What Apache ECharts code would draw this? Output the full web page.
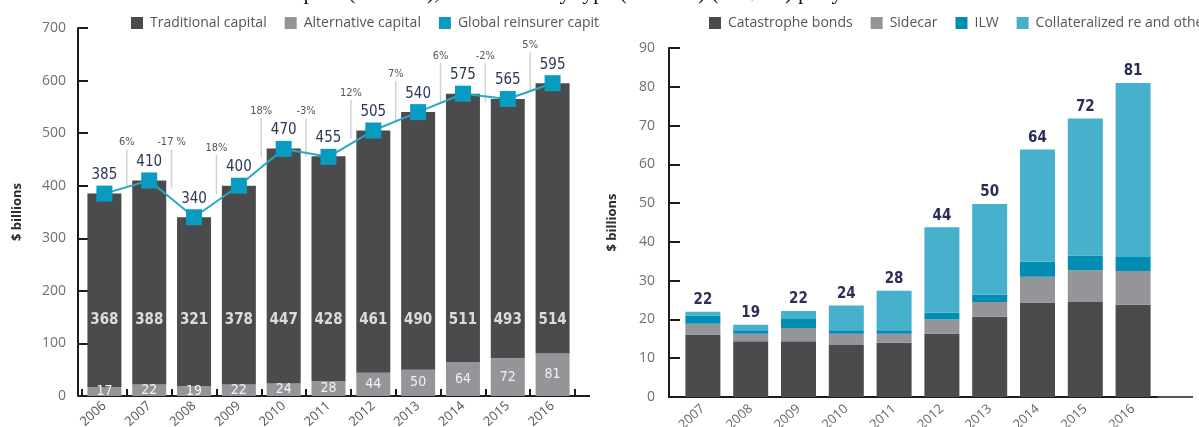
<!DOCTYPE html>
<html>
<head>
<meta charset="utf-8">
<script src="https://cdn.jsdelivr.net/npm/echarts@6/dist/echarts.min.js"></script>
<style>
html,body{margin:0;padding:0;background:#fff;width:1199px;height:427px;overflow:hidden;}
#left{position:absolute;left:0;top:0;width:600px;height:427px;overflow:hidden;}
#right{position:absolute;left:600px;top:0;width:599px;height:427px;overflow:hidden;}
#cap{position:absolute;left:0;top:0;width:1199px;height:10px;overflow:hidden;}
#cap span{position:absolute;left:135px;top:-19px;font-family:'Liberation Serif',serif;font-size:22px;line-height:22px;white-space:nowrap;color:#111;}
</style>
</head>
<body>
<div id="left"></div>
<div id="right"></div>
<div id="cap"><span>Global reinsurer capital (USD bn), Alternative by type (USD bn) (US$ bn) per year</span></div>
<script>
// ---------- DATA ----------
const years = ['2006','2007','2008','2009','2010','2011','2012','2013','2014','2015','2016'];
const traditional = [368, 388, 321, 378, 447, 428, 461, 490, 511, 493, 514];
const alternative = [17, 22, 19, 22, 24, 28, 44, 50, 64, 72, 81];
const globalCap = [385, 410, 340, 400, 470, 455, 505, 540, 575, 565, 595];
const changeLabels = ['', '6%', '-17 %', '18%', '18%', '-3%', '12%', '7%', '6%', '-2%', '5%'];
const leftTicks = [0, 100, 200, 300, 400, 500, 600, 700];

const altYears = ['2007','2008','2009','2010','2011','2012','2013','2014','2015','2016'];
const catBonds   = [16.1, 14.4, 14.4, 13.4, 14.0, 16.4, 20.7, 24.4, 24.5, 23.8];
const sidecar    = [2.8, 1.9, 3.4, 2.9, 2.3, 3.6, 3.8, 6.6, 8.2, 8.7];
const ilw        = [2.1, 0.9, 2.3, 0.9, 0.9, 1.7, 1.9, 3.9, 3.8, 3.6];
const collateral = [1.0, 1.4, 2.1, 6.4, 10.2, 22.1, 23.4, 28.9, 35.3, 44.9];
const altTotals  = [22, 19, 22, 24, 28, 44, 50, 64, 72, 81];
const rightTicks = [0, 10, 20, 30, 40, 50, 60, 70, 80, 90];

// ---------- STYLE ----------
const NARROW = "'Liberation Sans Narrow','DejaVu Sans Condensed',sans-serif";
const SANS = "'Open Sans','Liberation Sans',sans-serif";
const DARK = '#4b4b4d', GREY = '#939598', TEAL = '#0a9cc0', TEAL_LINE = '#2aa6c6';
const ILW_C = '#008db4', COLL_C = '#46b0cd';
const AXIS = '#1c1c1c';
const TRAD_LABEL_LEVEL = 145;   // height (axis units) at which the traditional-capital labels sit
const PCT_OFFSET = 72;          // how far above the taller neighbour the % change label sits

const LG = {left: 82, top: 28, width: 493, height: 368, outerBoundsMode: 'none'};
const RG = {left: 79, top: 48, width: 478, height: 349, outerBoundsMode: 'none'};

function legendCfg(left, items) {
  return {
    left: left, top: 11, width: 1400, itemWidth: 12, itemHeight: 12, itemGap: 18,
    icon: 'rect', data: items, orient: 'horizontal',
    textStyle: {fontFamily: SANS, fontSize: 14, color: '#555', padding: [0, 0, 0, 2]}
  };
}

// ---------- LEFT CHART ----------
const left = echarts.init(document.getElementById('left'), null, {renderer: 'canvas'});
const pctData = [];
for (let i = 1; i < years.length; i++) {
  pctData.push([i, Math.max(globalCap[i - 1], globalCap[i]) + PCT_OFFSET, changeLabels[i]]);
}
left.setOption({
  animation: false,
  legend: legendCfg(126, ['Traditional capital', 'Alternative capital', 'Global reinsurer capital']),
  grid: LG,
  xAxis: {
    type: 'category', data: years,
    axisLine: {lineStyle: {color: AXIS, width: 2}},
    axisTick: {show: true, inside: true, length: 7, lineStyle: {color: AXIS, width: 2}},
    axisLabel: {rotate: 42, color: '#555', fontSize: 13, fontFamily: SANS, margin: 8}
  },
  yAxis: {
    type: 'value', min: leftTicks[0], max: leftTicks[leftTicks.length - 1], interval: 100, offset: 4,
    name: '$ billions', nameLocation: 'middle', nameGap: 54, nameRotate: 90,
    nameTextStyle: {fontFamily: SANS, fontSize: 13, fontWeight: 'bold', color: '#2a2a2a'},
    axisLine: {show: true, lineStyle: {color: AXIS, width: 2}},
    axisTick: {show: true, inside: true, length: 10, lineStyle: {color: AXIS, width: 2}},
    splitLine: {show: false},
    axisLabel: {color: '#707070', fontSize: 14, fontFamily: SANS, margin: 12}
  },
  graphic: [
    {type: 'line', shape: {x1: 575, y1: LG.top + LG.height, x2: 590, y2: LG.top + LG.height}, style: {stroke: AXIS, lineWidth: 2}},
    {type: 'line', shape: {x1: 78, y1: LG.top + LG.height, x2: 83, y2: LG.top + LG.height}, style: {stroke: AXIS, lineWidth: 2}}
  ],
  series: [
    {
      name: 'Alternative capital', type: 'bar', stack: 'cap', data: alternative, barWidth: 34,
      itemStyle: {color: GREY},
      label: {show: true, position: 'inside', color: '#f2f2f2', fontSize: 14, fontFamily: NARROW}
    },
    {
      name: 'Traditional capital', type: 'bar', stack: 'cap', data: traditional, barWidth: 34,
      itemStyle: {color: DARK}
    },
    {
      name: 'tradLabels', type: 'scatter', symbolSize: 0, silent: true, z: 5,
      data: traditional.map((v, i) => [i, TRAD_LABEL_LEVEL]),
      label: {show: true, position: 'inside', color: '#fff', fontSize: 15, fontWeight: 'bold', fontFamily: NARROW,
              formatter: p => String(traditional[p.dataIndex])}
    },
    {
      name: 'pct', type: 'custom', silent: true, z: 1, data: pctData,
      renderItem: function (params, api) {
        const pt = api.coord([api.value(0), api.value(1)]);
        const bw = api.size([1, 0])[0];
        const x = pt[0] - bw / 2;
        return {
          type: 'group',
          children: [
            {type: 'line', shape: {x1: x, y1: pt[1] + 7, x2: x, y2: pt[1] + 46}, style: {stroke: '#d2d2d2', lineWidth: 1.5}},
            {type: 'text', style: {x: x, y: pt[1], text: pctData[params.dataIndex][2], align: 'center', verticalAlign: 'middle',
              fill: '#555', font: '11px ' + NARROW}}
          ]
        };
      }
    },
    {
      name: 'Global reinsurer capital', type: 'line', data: globalCap, z: 10,
      symbol: 'rect', symbolSize: 16,
      itemStyle: {color: TEAL},
      lineStyle: {color: TEAL_LINE, width: 2},
      label: {show: true, position: 'top', distance: 3, color: '#2e3658', fontSize: 15, fontFamily: NARROW}
    }
  ]
});

// ---------- RIGHT CHART ----------
const right = echarts.init(document.getElementById('right'), null, {renderer: 'canvas'});
const rBase = RG.top + RG.height;
function stackSeries(name, data, color, extra) {
  return Object.assign({name: name, type: 'bar', stack: 'alt', data: data, barWidth: 35, itemStyle: {color: color}}, extra || {});
}
right.setOption({
  animation: false,
  legend: legendCfg(104, ['Catastrophe bonds', 'Sidecar', 'ILW', 'Collateralized re and other']),
  grid: RG,
  xAxis: {
    type: 'category', data: altYears,
    axisLine: {lineStyle: {color: AXIS, width: 2}},
    axisTick: {show: false},
    axisLabel: {rotate: 42, color: '#666', fontSize: 13, fontFamily: SANS, margin: 10}
  },
  yAxis: {
    type: 'value', min: rightTicks[0], max: rightTicks[rightTicks.length - 1], interval: 10, offset: 10,
    name: '$ billions', nameLocation: 'middle', nameGap: 50, nameRotate: 90,
    nameTextStyle: {fontFamily: SANS, fontSize: 13, fontWeight: 'bold', color: '#2a2a2a'},
    axisLine: {show: true, lineStyle: {color: AXIS, width: 2}},
    axisTick: {show: true, inside: true, length: 11, lineStyle: {color: AXIS, width: 2}},
    splitLine: {show: false},
    axisLabel: {color: '#707070', fontSize: 14, fontFamily: SANS, margin: 14}
  },
  graphic: [
    {type: 'line', shape: {x1: 68, y1: rBase, x2: 80, y2: rBase}, style: {stroke: AXIS, lineWidth: 2}},
    {type: 'line', shape: {x1: RG.left + RG.width, y1: rBase, x2: 593, y2: rBase}, style: {stroke: '#555', lineWidth: 2}}
  ],
  series: [
    stackSeries('Catastrophe bonds', catBonds, DARK),
    stackSeries('Sidecar', sidecar, GREY),
    stackSeries('ILW', ilw, ILW_C),
    stackSeries('Collateralized re and other', collateral, COLL_C, {
      label: {show: true, position: 'top', distance: 4, color: '#2b2f55', fontSize: 15, fontWeight: 'bold', fontFamily: NARROW,
              formatter: p => String(altTotals[p.dataIndex])}
    })
  ]
});
</script>
</body>
</html>
